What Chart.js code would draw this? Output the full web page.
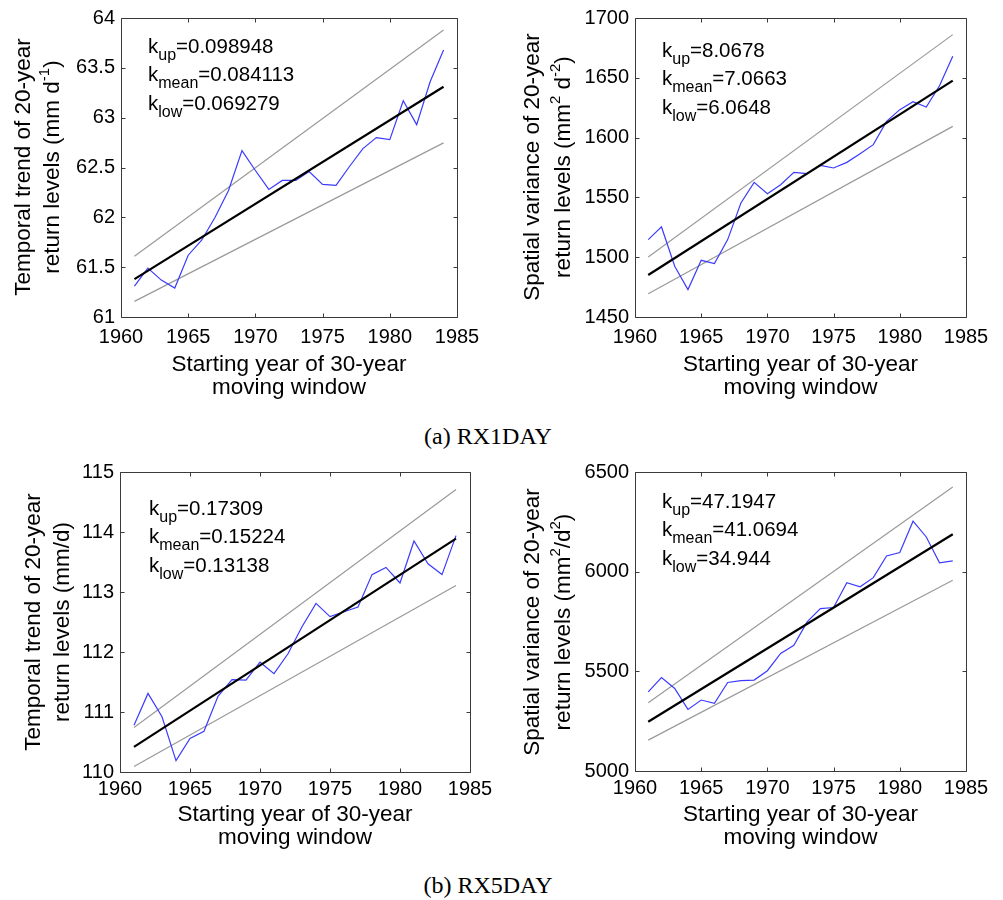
<!DOCTYPE html>
<html>
<head>
<meta charset="utf-8">
<script src="https://cdn.jsdelivr.net/npm/chart.js@4.4.1/dist/chart.umd.min.js"></script>
<style>
  html, body { margin: 0; padding: 0; background: #fff; }
  #wrap { position: relative; width: 1003px; height: 900px; overflow: hidden; font-family: "Liberation Sans", Arial, sans-serif; color: #000; }
  canvas { position: absolute; }
  .yt { position: absolute; white-space: nowrap; font-size: 22.5px; line-height: 26px; transform: translate(-50%, -50%) rotate(-90deg); transform-origin: center center; }
  .yt sup { font-size: 15px; line-height: 0; position: relative; top: -2px; vertical-align: super; }
  .ann { position: absolute; white-space: nowrap; font-size: 20.5px; line-height: 24px; }
  .ann .sb { font-size: 16px; line-height: 0; position: relative; top: 7px; }
  .cap { position: absolute; white-space: nowrap; font-family: "Liberation Serif", "Times New Roman", serif; font-size: 24px; line-height: 28px; transform: translate(-50%, -50%); }
</style>
</head>
<body>
<div id="wrap">
  <canvas id="c1" width="500" height="410" style="left:0px;top:0px;"></canvas>
  <canvas id="c2" width="503" height="410" style="left:500px;top:0px;"></canvas>
  <canvas id="c3" width="500" height="410" style="left:0px;top:450px;"></canvas>
  <canvas id="c4" width="503" height="410" style="left:500px;top:450px;"></canvas>

  <div class="yt" style="left:23px;top:167px;">Temporal trend of 20-year</div>
  <div class="yt" style="left:52px;top:167px;">return levels (mm d<sup>-1</sup>)</div>
  <div class="yt" style="left:532px;top:167px;">Spatial variance of 20-year</div>
  <div class="yt" style="left:563px;top:167px;">return levels (mm<sup>2</sup> d<sup>-2</sup>)</div>
  <div class="yt" style="left:33px;top:622px;">Temporal trend of 20-year</div>
  <div class="yt" style="left:62px;top:622px;">return levels (mm/d)</div>
  <div class="yt" style="left:532px;top:622px;">Spatial variance of 20-year</div>
  <div class="yt" style="left:563px;top:622px;">return levels (mm<sup>2</sup>/d<sup>2</sup>)</div>

  <div id="a1"></div><div id="a2"></div><div id="a3"></div><div id="a4"></div>

  <div class="cap" style="left:488px;top:436px;">(a) RX1DAY</div>
  <div class="cap" style="left:488px;top:885px;">(b) RX5DAY</div>
</div>
<script>
// ---------------- data ----------------
const years = [1961,1962,1963,1964,1965,1966,1967,1968,1969,1970,1971,1972,1973,1974,1975,1976,1977,1978,1979,1980,1981,1982,1983,1984];
const trendYears = [1961, 1984];
const xTicks = [1960, 1965, 1970, 1975, 1980, 1985];

// (a) RX1DAY temporal trend
const rx1Temporal = [61.31,61.49,61.37,61.29,61.62,61.77,62.00,62.27,62.67,62.47,62.28,62.37,62.37,62.46,62.33,62.32,62.51,62.69,62.80,62.78,63.17,62.93,63.36,63.68];
const rx1TemporalMean = [61.38, 63.31];
const rx1TemporalUp = [61.61, 63.88];
const rx1TemporalLow = [61.157, 62.747];
const rx1TemporalTicks = [61, 61.5, 62, 62.5, 63, 63.5, 64];
const rx1TemporalK = ["0.098948", "0.084113", "0.069279"];

// (a) RX1DAY spatial variance
const rx1Spatial = [1514.7,1525.3,1492.4,1472.9,1497.4,1494.6,1514.7,1545.3,1562.6,1553.1,1560.6,1571.0,1569.8,1576.8,1574.6,1579.3,1586.6,1594.1,1613.6,1623.4,1630.0,1625.6,1643.4,1668.0];
const rx1SpatialMean = [1485.1, 1647.6];
const rx1SpatialUp = [1500.2, 1686.1];
const rx1SpatialLow = [1469.5, 1609.4];
const rx1SpatialTicks = [1450, 1500, 1550, 1600, 1650, 1700];
const rx1SpatialK = ["8.0678", "7.0663", "6.0648"];

// (b) RX5DAY temporal trend
const rx5Temporal = [110.78,111.31,110.92,110.19,110.56,110.68,111.26,111.54,111.53,111.83,111.64,111.97,112.42,112.81,112.59,112.67,112.75,113.29,113.41,113.15,113.85,113.47,113.29,113.94];
const rx5TemporalMean = [110.42, 113.89];
const rx5TemporalUp = [110.74, 114.71];
const rx5TemporalLow = [110.09, 113.11];
const rx5TemporalTicks = [110, 111, 112, 113, 114, 115];
const rx5TemporalK = ["0.17309", "0.15224", "0.13138"];

// (b) RX5DAY spatial variance
const rx5Spatial = [5397,5469,5414,5309,5356,5339,5444,5453,5456,5503,5590,5631,5748,5815,5820,5945,5924,5970,6079,6096,6253,6174,6044,6054];
const rx5SpatialMean = [5247, 6188];
const rx5SpatialUp = [5342, 6425];
const rx5SpatialLow = [5155, 5957];
const rx5SpatialTicks = [5000, 5500, 6000, 6500];
const rx5SpatialK = ["47.1947", "41.0694", "34.944"];

// ---------------- helpers ----------------
const pts = (xs, ys) => xs.map((x, i) => ({ x: x, y: ys[i] }));

const boxPlugin = {
  id: 'matlabBox',
  afterDraw(chart) {
    const ctx = chart.ctx;
    const a = chart.chartArea;
    const xs = chart.scales.x, ys = chart.scales.y;
    const L = Math.round(a.left) + 0.5, R = Math.round(a.right) + 0.5;
    const T = Math.round(a.top) + 0.5, B = Math.round(a.bottom) + 0.5;
    ctx.save();
    ctx.strokeStyle = '#3a3a3a';
    ctx.lineWidth = 1;
    ctx.beginPath();
    ctx.rect(L, T, R - L, B - T);
    const tl = 4;
    xs.ticks.forEach(t => {
      const p = Math.round(xs.getPixelForValue(t.value)) + 0.5;
      ctx.moveTo(p, B); ctx.lineTo(p, B - tl);
      ctx.moveTo(p, T); ctx.lineTo(p, T + tl);
    });
    ys.ticks.forEach(t => {
      const p = Math.round(ys.getPixelForValue(t.value)) + 0.5;
      ctx.moveTo(L, p); ctx.lineTo(L + tl, p);
      ctx.moveTo(R, p); ctx.lineTo(R - tl, p);
    });
    ctx.stroke();
    ctx.restore();
  }
};

function makeChart(id, series, mean, up, low, yTicks, pad, xAxisH, tickPad) {
  const ds = (data, color, w) => ({
    data: data, borderColor: color, borderWidth: w, showLine: true,
    pointRadius: 0, pointHoverRadius: 0, fill: false, tension: 0
  });
  return new Chart(document.getElementById(id), {
    type: 'scatter',
    data: {
      datasets: [
        ds(pts(trendYears, mean), '#000000', 2.2),
        ds(pts(years, series), '#3b3bff', 1.2),
        ds(pts(trendYears, up), '#9a9a9a', 1.2),
        ds(pts(trendYears, low), '#9a9a9a', 1.2)
      ]
    },
    options: {
      responsive: false,
      animation: false,
      events: [],
      layout: { padding: pad },
      plugins: { legend: { display: false }, tooltip: { enabled: false } },
      scales: {
        x: {
          type: 'linear',
          min: xTicks[0], max: xTicks[xTicks.length - 1],
          grid: { display: false, drawTicks: false },
          border: { display: false },
          afterBuildTicks: s => { s.ticks = xTicks.map(v => ({ value: v })); },
          afterFit: s => { s.height = xAxisH; },
          ticks: {
            autoSkip: false, maxRotation: 0, padding: tickPad, color: '#000',
            font: { family: 'Liberation Sans', size: 20, lineHeight: 1.2 },
            callback: v => String(v)
          },
          title: {
            display: true,
            text: ['Starting year of 30-year', 'moving window'],
            color: '#000',
            font: { family: 'Liberation Sans', size: 22.5, lineHeight: 1.02 },
            padding: { top: 0, bottom: 11 }
          }
        },
        y: {
          type: 'linear',
          min: yTicks[0], max: yTicks[yTicks.length - 1],
          grid: { display: false, drawTicks: false },
          border: { display: false },
          afterBuildTicks: s => { s.ticks = yTicks.map(v => ({ value: v })); },
          afterFit: s => { s.width = 60; },
          ticks: {
            autoSkip: false, padding: 6, color: '#000',
            font: { family: 'Liberation Sans', size: 20, lineHeight: 1.2 },
            callback: v => String(v)
          }
        }
      }
    },
    plugins: [boxPlugin]
  });
}

makeChart('c1', rx1Temporal, rx1TemporalMean, rx1TemporalUp, rx1TemporalLow, rx1TemporalTicks,
  { left: 61, right: 43, top: 17, bottom: 0 }, 93, 8);
makeChart('c2', rx1Spatial, rx1SpatialMean, rx1SpatialUp, rx1SpatialLow, rx1SpatialTicks,
  { left: 75, right: 37, top: 18, bottom: 0 }, 93, 8);
makeChart('c3', rx5Temporal, rx5TemporalMean, rx5TemporalUp, rx5TemporalLow, rx5TemporalTicks,
  { left: 60, right: 30, top: 22, bottom: 0 }, 88, 5);
makeChart('c4', rx5Spatial, rx5SpatialMean, rx5SpatialUp, rx5SpatialLow, rx5SpatialTicks,
  { left: 75, right: 37, top: 22, bottom: 0 }, 89, 5);

// ---------------- annotations ----------------
function annotate(id, k, left, firstCenter) {
  const subs = ['up', 'mean', 'low'];
  const el = document.getElementById(id);
  k.forEach((val, i) => {
    const d = document.createElement('div');
    d.className = 'ann';
    d.style.left = left + 'px';
    d.style.top = (firstCenter + i * 28.3 - 12) + 'px';
    d.innerHTML = 'k<span class="sb">' + subs[i] + '</span>=' + val;
    el.appendChild(d);
  });
}
annotate('a1', rx1TemporalK, 148, 46);
annotate('a2', rx1SpatialK, 662, 50);
annotate('a3', rx5TemporalK, 149, 508);
annotate('a4', rx5SpatialK, 662, 501);
</script>
</body>
</html>
